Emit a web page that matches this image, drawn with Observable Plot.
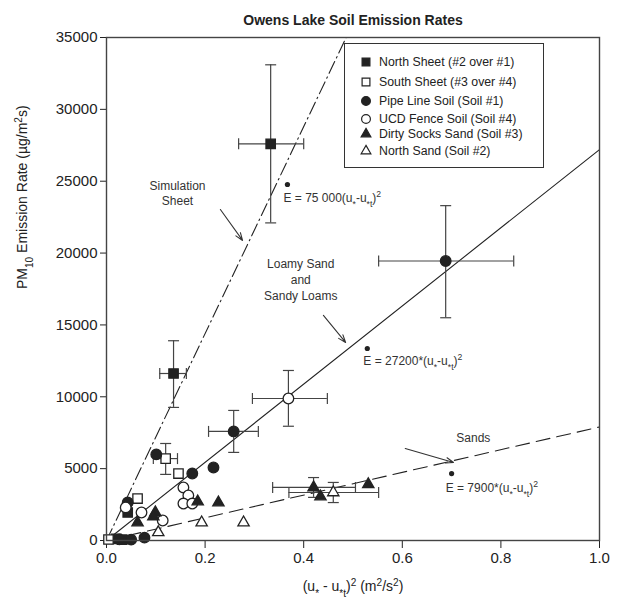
<!DOCTYPE html>
<html><head><meta charset="utf-8">
<script src="https://cdn.jsdelivr.net/npm/d3@7"></script>
<script src="https://cdn.jsdelivr.net/npm/@observablehq/plot@0.6"></script>
<style>
body{margin:0;background:#fff;font-family:"Liberation Sans",Arial,Helvetica,sans-serif;}
#wrap{position:relative;width:624px;height:602px;}
#legend{position:absolute;left:344px;top:43px;width:200px;height:125px;border:1.3px solid #333;box-sizing:border-box;font-size:12.3px;color:#222;background:#fff;}
.row{position:absolute;left:0;display:flex;align-items:center;height:14px;line-height:14px;white-space:nowrap;}
.row svg{margin-left:14px;margin-right:6px;}
</style></head><body><div id="wrap"></div>
<script>
// ---------- data ----------
const seriesNames = ["North Sheet (#2 over #1)", "South Sheet (#3 over #4)", "Pipe Line Soil (Soil #1)", "UCD Fence Soil (Soil #4)", "Dirty Socks Sand (Soil #3)", "North Sand (Soil #2)"];

const northSheetX = [0.333, 0.136, 0.043, 0.020, 0.032];
const northSheetY = [27600, 11620, 1950, 110, 60];
const southSheetX = [0.120, 0.146, 0.063, 0.004];
const southSheetY = [5700, 4660, 2920, 70];
const pipeLineX = [0.688, 0.258, 0.101, 0.174, 0.217, 0.043, 0.077, 0.026, 0.050];
const pipeLineY = [19450, 7590, 5990, 4660, 5080, 2640, 200, 80, 60];
const ucdFenceX = [0.369, 0.156, 0.166, 0.156, 0.174, 0.039, 0.071, 0.114];
const ucdFenceY = [9880, 3690, 3130, 2570, 2570, 2300, 1950, 1390];
const dirtySocksX = [0.420, 0.434, 0.531, 0.185, 0.227, 0.099, 0.095, 0.063];
const dirtySocksY = [3690, 3060, 3900, 2710, 2640, 1950, 1670, 1250];
const northSandX = [0.460, 0.193, 0.278, 0.105];
const northSandY = [3340, 1250, 1250, 560];

// error bars
const errX   = [0.333, 0.136, 0.120, 0.688, 0.258, 0.369, 0.420, 0.460];
const errY   = [27600, 11620, 5700, 19450, 7590, 9880, 3690, 3340];
const errXLo = [0.268, 0.108, 0.095, 0.552, 0.207, 0.296, 0.337, 0.370];
const errXHi = [0.400, 0.162, 0.144, 0.826, 0.308, 0.448, 0.505, 0.552];
const errYLo = [22100, 9260, 4600, 15500, 6130, 7950, 3000, 2640];
const errYHi = [33100, 13900, 6750, 23300, 9050, 11830, 4380, 4040];

// fitted lines E = k (u* - u*t)^2
const fitSlopes = [72000, 27200, 7900];
const fitXmax = [35000 / 72000, 1.0, 1.0];

// annotations
const labelTexts = ["Simulation\nSheet", "Loamy Sand\nand\nSandy Loams", "Sands"];
const labelX = [0.144, 0.394, 0.744];
const labelY = [24200, 18200, 7170];
const eqTexts = ["E = 75 000(u_{*}-u_{*t})^{2}", "E = 27200*(u_{*}-u_{*t})^{2}", "E = 7900*(u_{*}-u_{*t})^{2}"];
const eqX = [0.359, 0.521, 0.688];
const eqY = [23800, 12460, 3620];
const eqDotX = [0.367, 0.529, 0.700];
const eqDotY = [24770, 13360, 4660];
const arrowX1 = [0.231, 0.440, 0.606];
const arrowY1 = [23030, 15660, 6400];
const arrowX2 = [0.276, 0.485, 0.704];
const arrowY2 = [20880, 13780, 5430];

const xTicks = [0, 0.2, 0.4, 0.6, 0.8, 1.0];
const yTicks = [0, 5000, 10000, 15000, 20000, 25000, 30000, 35000];
const titleText = "Owens Lake Soil Emission Rates";
const xLabel = "(u_{*} - u_{*t})^{2} (m^{2}/s^{2})";
const yLabel = "PM_{10} Emission Rate (µg/m^{2}s)";

// ---------- build ----------
const ink = "#222";
const styles = [
  {symbol: "square", fill: ink, r: 5.3},
  {symbol: "square", fill: "white", r: 5.3},
  {symbol: "circle", fill: ink, r: 5.3},
  {symbol: "circle", fill: "white", r: 5.3},
  {symbol: "triangle", fill: ink, r: 4.2},
  {symbol: "triangle", fill: "white", r: 4.2}
];
const seriesXY = [[northSheetX, northSheetY], [southSheetX, southSheetY], [pipeLineX, pipeLineY],
                  [ucdFenceX, ucdFenceY], [dirtySocksX, dirtySocksY], [northSandX, northSandY]];
const seriesData = seriesXY.map(([xs, ys]) => xs.map((x, i) => ({x, y: ys[i]})));
const errs = errX.map((x, i) => ({x, y: errY[i], xlo: errXLo[i], xhi: errXHi[i], ylo: errYLo[i], yhi: errYHi[i]}));
const fits = fitSlopes.map((k, i) => [{x: 0, y: 0}, {x: fitXmax[i], y: k * fitXmax[i]}]);
const labels = labelTexts.map((t, i) => ({t, x: labelX[i], y: labelY[i]}));
const eqs = eqTexts.map((t, i) => ({t, x: eqX[i], y: eqY[i], dx: eqDotX[i], dy: eqDotY[i]}));
const arrows = arrowX1.map((x1, i) => ({x1, y1: arrowY1[i], x2: arrowX2[i], y2: arrowY2[i]}));

const capV = {draw(ctx, size) { const h = Math.sqrt(size / Math.PI); ctx.moveTo(0, -h); ctx.lineTo(0, h); }};
const capH = {draw(ctx, size) { const h = Math.sqrt(size / Math.PI); ctx.moveTo(-h, 0); ctx.lineTo(h, 0); }};
const errColor = "#444";
const dashes = ["13,4,1.5,4", null, "14,7"];

const marks = [];
fits.forEach((f, i) => marks.push(Plot.line(f, {x: "x", y: "y", stroke: ink, strokeWidth: 1.1, strokeDasharray: dashes[i]})));
marks.push(
  Plot.ruleY(errs, {y: "y", x1: "xlo", x2: "xhi", stroke: errColor, strokeWidth: 1.2}),
  Plot.ruleX(errs, {x: "x", y1: "ylo", y2: "yhi", stroke: errColor, strokeWidth: 1.2}),
  Plot.dot(errs, {x: "xlo", y: "y", symbol: capV, r: 5.5, fill: "none", stroke: errColor, strokeWidth: 1.2}),
  Plot.dot(errs, {x: "xhi", y: "y", symbol: capV, r: 5.5, fill: "none", stroke: errColor, strokeWidth: 1.2}),
  Plot.dot(errs, {x: "x", y: "ylo", symbol: capH, r: 5.5, fill: "none", stroke: errColor, strokeWidth: 1.2}),
  Plot.dot(errs, {x: "x", y: "yhi", symbol: capH, r: 5.5, fill: "none", stroke: errColor, strokeWidth: 1.2})
);
seriesData.forEach((d, i) => marks.push(Plot.dot(d, {x: "x", y: "y", symbol: styles[i].symbol, r: styles[i].r, fill: styles[i].fill, stroke: ink, strokeWidth: 1.3})));
marks.push(
  Plot.arrow(arrows, {x1: "x1", y1: "y1", x2: "x2", y2: "y2", stroke: "#333", strokeWidth: 1.1, headLength: 11, headAngle: 40}),
  Plot.text(labels, {x: "x", y: "y", text: "t", fontSize: 12, fill: "#333", lineHeight: 1.3}),
  Plot.dot(eqs, {x: "dx", y: "dy", r: 2.6, fill: ink, stroke: "none"}),
  Plot.text(eqs, {x: "x", y: "y", text: "t", fontSize: 12, fill: "#333", textAnchor: "start"}),
  Plot.frame({stroke: "#444", strokeWidth: 1.4}),
  Plot.text([titleText], {frameAnchor: "top", dy: -22, fontSize: 14, fontWeight: "bold", fill: "#222"}),
  Plot.text([xLabel], {frameAnchor: "bottom", dy: 50, fontSize: 14, fill: "#222"}),
  Plot.text([yLabel], {frameAnchor: "left", dx: -84, rotate: -90, fontSize: 14, fill: "#222"})
);

const chart = Plot.plot({
  width: 624,
  height: 602,
  marginLeft: 106,
  marginRight: 25,
  marginTop: 37,
  marginBottom: 62,
  style: {fontFamily: '"Liberation Sans", Arial, Helvetica, sans-serif', fontSize: "15px", color: "#222", background: "white"},
  x: {domain: [0, 1], ticks: xTicks, tickFormat: d3.format(".1f"), tickSize: 8, tickPadding: 4, label: null},
  y: {domain: [0, 35000], ticks: yTicks, tickFormat: d3.format("d"), tickSize: 6, tickPadding: 3, label: null},
  marks
});

// rich text: _{..} subscripts and ^{..} superscripts
d3.select(chart).selectAll("text, tspan").each(function () {
  if (this.children.length) return;
  const s = this.textContent;
  if (!/[_^]\{/.test(s)) return;
  const el = d3.select(this);
  el.text("");
  const re = /([_^])\{([^}]*)\}/g;
  let last = 0, m;
  while ((m = re.exec(s))) {
    if (m.index > last) el.append("tspan").text(s.slice(last, m.index));
    el.append("tspan").text(m[2]).attr("baseline-shift", m[1] === "_" ? "sub" : "super").attr("font-size", "72%");
    last = re.lastIndex;
  }
  if (last < s.length) el.append("tspan").text(s.slice(last));
});

const wrap = document.getElementById("wrap");
wrap.appendChild(chart);

// legend
const legend = document.createElement("div");
legend.id = "legend";
const rowTops = [11, 31, 50, 68, 83, 100];
seriesNames.forEach((name, i) => {
  const row = document.createElement("div");
  row.className = "row";
  row.style.top = rowTops[i] + "px";
  const sym = {square: d3.symbolSquare, circle: d3.symbolCircle, triangle: d3.symbolTriangle}[styles[i].symbol];
  const rr = styles[i].symbol === "triangle" ? 3.6 : 4.4;
  const path = d3.symbol(sym, rr * rr * Math.PI)();
  row.innerHTML = `<svg width="14" height="14" viewBox="-7 -7 14 14"><path d="${path}" fill="${styles[i].fill}" stroke="${ink}" stroke-width="1.2"/></svg><span>${name}</span>`;
  legend.appendChild(row);
});
wrap.appendChild(legend);
</script>
</body></html>
